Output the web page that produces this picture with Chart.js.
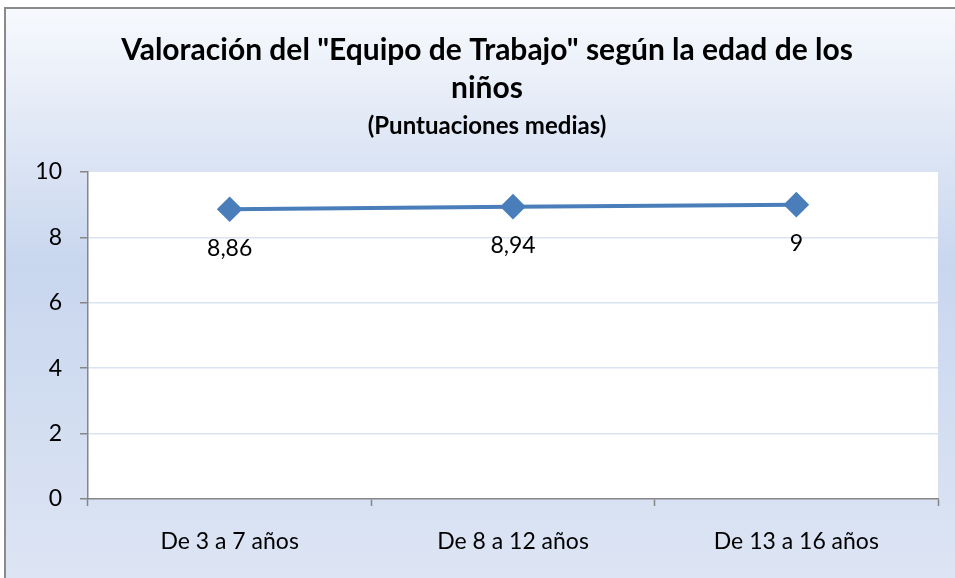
<!DOCTYPE html>
<html>
<head>
<meta charset="utf-8">
<script src="https://cdn.jsdelivr.net/npm/chart.js@4.4.0/dist/chart.umd.min.js"></script>
<style>
  body { margin: 0; background: #fff; }
  #wrap { width: 955px; height: 578px; }
</style>
</head>
<body>
<div id="wrap"><canvas id="line-chart" width="955" height="578"></canvas></div>
<script>
const categories = ['De 3 a 7 años', 'De 8 a 12 años', 'De 13 a 16 años'];
const puntuaciones = [8.86, 8.94, 9];
const etiquetas = ['8,86', '8,94', '9'];
const yTicks = [0, 2, 4, 6, 8, 10];

const FONT = 'Lato';

// fondo degradado y area de trazado blanca
const fondo = {
  id: 'fondo',
  beforeDraw(chart) {
    const { ctx, width, height, chartArea } = chart;
    ctx.save();
    const g = ctx.createLinearGradient(0, 8, 0, height);
    g.addColorStop(0, '#f7f9fd');
    g.addColorStop(0.45, '#c8d6ee');
    g.addColorStop(1, '#dde5f4');
    ctx.fillStyle = g;
    ctx.fillRect(5, 8, width, height);
    ctx.strokeStyle = '#8a8a8a';
    ctx.lineWidth = 2;
    ctx.beginPath();
    ctx.moveTo(5, height);
    ctx.lineTo(5, 8);
    ctx.lineTo(width, 8);
    ctx.stroke();
    ctx.fillStyle = '#ffffff';
    ctx.fillRect(chartArea.left, chartArea.top, chartArea.right - chartArea.left, chartArea.bottom - chartArea.top);
    ctx.restore();
  }
};

// etiquetas de datos debajo de cada punto
const etiquetasDatos = {
  id: 'etiquetasDatos',
  afterDatasetsDraw(chart) {
    const { ctx } = chart;
    const meta = chart.getDatasetMeta(0);
    ctx.save();
    ctx.font = '23px ' + FONT;
    ctx.fillStyle = '#000';
    ctx.textAlign = 'center';
    ctx.textBaseline = 'middle';
    meta.data.forEach((pt, i) => {
      ctx.fillText(etiquetas[i], pt.x, pt.y + 39);
    });
    ctx.restore();
  }
};

new Chart(document.getElementById('line-chart').getContext('2d'), {
  type: 'line',
  data: {
    labels: categories,
    datasets: [{
      label: 'Puntuaciones medias',
      data: puntuaciones,
      borderColor: '#4a7ebb',
      backgroundColor: '#4a7ebb',
      borderWidth: 4,
      pointStyle: 'rectRot',
      pointRadius: 10,
      pointHoverRadius: 10,
      tension: 0,
    }],
  },
  options: {
    responsive: false,
    animation: false,
    layout: { padding: { left: 36, right: 17, top: 8, bottom: 0 } },
    scales: {
      x: {
        offset: true,
        grid: {
          offset: true,
          drawOnChartArea: false,
          tickLength: 7,
          tickColor: '#868686',
          tickWidth: 1.5,
        },
        border: { color: '#868686', width: 1.5 },
        ticks: {
          color: '#000',
          padding: 22,
          font: { family: FONT, size: 23 },
        },
        afterFit(scale) { scale.height = 79; },
      },
      y: {
        min: 0,
        max: 10,
        afterBuildTicks(scale) { scale.ticks = yTicks.map(v => ({ value: v })); },
        grid: {
          color: (c) => (c.tick && c.tick.value > 0 && c.tick.value < 10) ? '#d9e3f1' : 'rgba(0,0,0,0)',
          lineWidth: 1.5,
          tickLength: 8,
          tickColor: '#868686',
          tickWidth: 1.5,
        },
        border: { color: '#868686', width: 1.5 },
        ticks: {
          color: '#000',
          padding: 18,
          font: { family: FONT, size: 23 },
        },
        afterFit(scale) { scale.width = 52; },
      },
    },
    plugins: {
      legend: { display: false },
      tooltip: { enabled: false },
      title: {
        display: true,
        text: ['Valoración del "Equipo de Trabajo" según la edad de los', 'niños'],
        color: '#000',
        font: { family: FONT, size: 30, weight: 'bold', lineHeight: 1.27 },
        padding: { top: 23, bottom: 5 },
      },
      subtitle: {
        display: true,
        text: '(Puntuaciones medias)',
        color: '#000',
        font: { family: FONT, size: 24, weight: 'bold', lineHeight: 1.2 },
        padding: { top: 0, bottom: 31 },
      },
    },
  },
  plugins: [fondo, etiquetasDatos],
});
</script>
</body>
</html>
